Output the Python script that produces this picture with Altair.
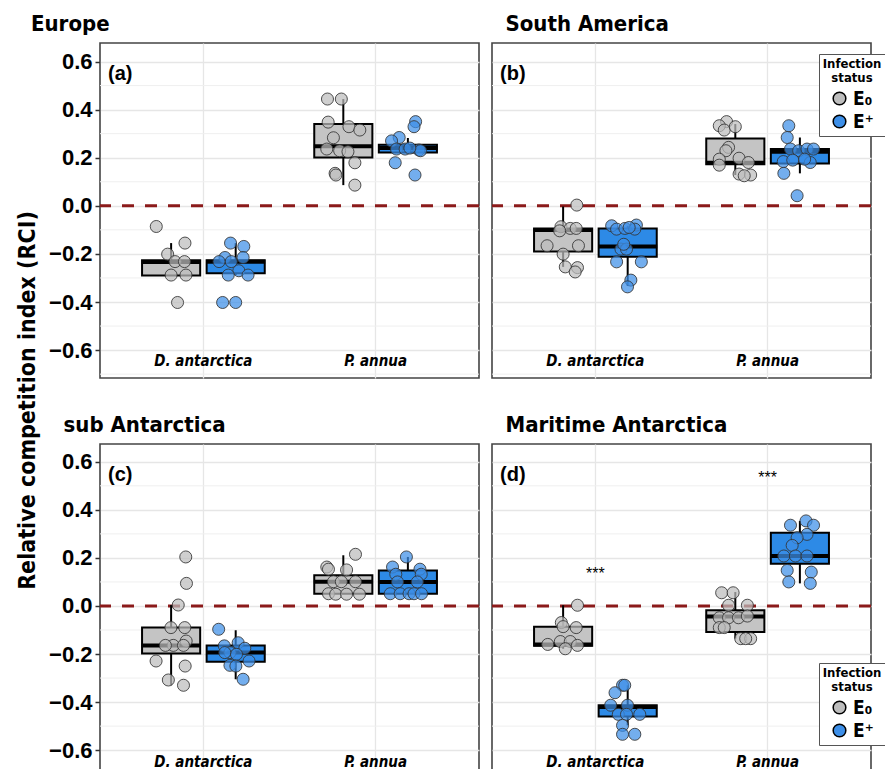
import altair as alt
import pandas as pd

COND = "Liberation Sans Narrow, DejaVu Sans Condensed, Roboto Condensed, sans-serif"
ARIAL = "Liberation Sans, Arial, sans-serif"

regions = ["Europe", "South America", "sub Antarctica", "Maritime Antarctica"]
tags = ["(a)", "(b)", "(c)", "(d)"]
species = ["D. antarctica", "P. annua"]
statuses = ["E\u2080", "E\u207a"]
groups = [(species[0], statuses[0]), (species[0], statuses[1]),
          (species[1], statuses[0]), (species[1], statuses[1])]

# box statistics per region, groups ordered DA-E0, DA-E+, PA-E0, PA-E+
box_lo = {
    "Europe": [-0.290, -0.288, 0.086, 0.222],
    "South America": [-0.254, -0.333, 0.128, 0.135],
    "sub Antarctica": [-0.330, -0.305, 0.049, 0.051],
    "Maritime Antarctica": [-0.178, -0.497, -0.136, 0.094],
}
box_q1 = {
    "Europe": [-0.290, -0.280, 0.201, 0.222],
    "South America": [-0.190, -0.212, 0.173, 0.176],
    "sub Antarctica": [-0.198, -0.232, 0.051, 0.051],
    "Maritime Antarctica": [-0.166, -0.460, -0.108, 0.176],
}
box_med = {
    "Europe": [-0.234, -0.233, 0.248, 0.240],
    "South America": [-0.101, -0.169, 0.179, 0.225],
    "sub Antarctica": [-0.164, -0.194, 0.101, 0.100],
    "Maritime Antarctica": [-0.160, -0.420, -0.044, 0.208],
}
box_q3 = {
    "Europe": [-0.226, -0.226, 0.340, 0.254],
    "South America": [-0.094, -0.094, 0.280, 0.236],
    "sub Antarctica": [-0.090, -0.164, 0.128, 0.148],
    "Maritime Antarctica": [-0.086, -0.413, -0.018, 0.305],
}
box_hi = {
    "Europe": [-0.155, -0.155, 0.444, 0.282],
    "South America": [-0.003, -0.083, 0.340, 0.284],
    "sub Antarctica": [0.004, -0.101, 0.211, 0.204],
    "Maritime Antarctica": [0.003, -0.330, 0.058, 0.354],
}

pts_val = {
    "Europe": [
        [-0.086, -0.155, -0.201, -0.232, -0.232, -0.288, -0.288, -0.402],
        [-0.155, -0.169, -0.215, -0.232, -0.215, -0.270, -0.288, -0.288, -0.232, -0.402, -0.402],
        [0.444, 0.444, 0.348, 0.329, 0.315, 0.283, 0.236, 0.229, 0.225, 0.179, 0.135, 0.128, 0.086],
        [0.350, 0.329, 0.284, 0.270, 0.236, 0.236, 0.232, 0.229, 0.179, 0.128, 0.240],
    ],
    "South America": [
        [0.003, -0.087, -0.094, -0.094, -0.104, -0.166, -0.166, -0.201, -0.254, -0.257, -0.275],
        [-0.083, -0.097, -0.094, -0.080, -0.097, -0.090, -0.180, -0.180, -0.160, -0.233, -0.233, -0.309, -0.337],
        [0.350, 0.333, 0.315, 0.329, 0.243, 0.229, 0.194, 0.198, 0.169, 0.180, 0.132, 0.128, 0.125],
        [0.333, 0.284, 0.236, 0.229, 0.236, 0.236, 0.184, 0.190, 0.180, 0.194, 0.135, 0.042],
    ],
    "sub Antarctica": [
        [0.204, 0.094, 0.004, -0.090, -0.090, -0.146, -0.164, -0.164, -0.164, -0.229, -0.250, -0.308, -0.330],
        [-0.097, -0.166, -0.153, -0.176, -0.194, -0.201, -0.229, -0.247, -0.250, -0.305, -0.194],
        [0.215, 0.162, 0.153, 0.150, 0.101, 0.101, 0.101, 0.051, 0.049, 0.049, 0.049],
        [0.204, 0.162, 0.132, 0.153, 0.132, 0.100, 0.100, 0.051, 0.051, 0.051, 0.051, 0.051],
    ],
    "Maritime Antarctica": [
        [0.003, -0.069, -0.090, -0.160, -0.148, -0.148, -0.164, -0.178, -0.086],
        [-0.330, -0.361, -0.413, -0.413, -0.451, -0.451, -0.451, -0.497, -0.534, -0.534, -0.330],
        [0.055, 0.055, 0.003, 0.003, -0.049, -0.049, -0.049, -0.042, -0.090, -0.090, -0.136, -0.136, -0.136],
        [0.336, 0.354, 0.336, 0.298, 0.284, 0.252, 0.208, 0.208, 0.208, 0.148, 0.141, 0.100, 0.094],
    ],
}
pts_jit = {
    "Europe": [
        [-15, 14, -3.5, 4, 13.5, 0, 15, 6.5],
        [-5.2, 8.2, -10.8, -4.5, 7.5, 3.2, -7.5, 12.5, -16.8, -13.2, 0],
        [-16, -2, -15.3, 5.7, 16.7, -10, -16.7, -3.7, 4.7, 11.7, -8.3, -7.5, 11.7],
        [7.8, 6.2, -8.8, -16.5, -11.5, -2.8, 11.2, 12.8, -12.8, 7.2, 2],
    ],
    "South America": [
        [13.8, -2.2, 7.2, 13.2, -3.5, -16.2, 15.5, 0, 2.2, 14.5, 12.2],
        [-16.2, -11.2, -2.8, 8.8, 7.2, 1.5, -6.8, -1.2, -4, -11.2, 13.8, 3.2, -0.2],
        [-8.8, -16.2, -11.2, 0, -6.8, -9.5, -16.2, 3.8, -16.2, 13.2, 3.8, 15.5, 9],
        [-11.2, -12.8, -9.5, -1.2, 7.2, 13.8, -16.8, -7.2, 10.5, 4.8, -16.2, -2.8],
    ],
    "sub Antarctica": [
        [14.8, 15.5, 7.2, -0.2, 13.8, 15.2, 2.2, -5.8, 12.5, -15.2, 14.2, -2.8, 12.5],
        [-17.2, -11.5, 2.5, 9.2, -5.8, 0.8, 13.5, -5.8, 0.2, 7.5, -11],
        [12.3, -16.7, -15, 3.3, -10, -2, 12.3, -15, -7.7, 3.3, 16.3],
        [-1.5, -15.5, -12.2, 12.2, 13.5, -10.5, 9.5, -17.8, -7.8, 1.2, 6.2, 13.8],
    ],
    "Maritime Antarctica": [
        [14.5, -1.8, 13.2, -15.5, -2.8, 7.2, 14.5, 2.2, 0],
        [-5.2, -12.8, -17.2, -0.2, -9.5, -1.2, 12.2, -5.2, 7.2, -5.2, -3],
        [-13.8, -2.2, -6.8, 12.2, -16.2, -6.8, 3.2, 12.2, -16.2, -11.2, 5.5, 15.5, 10.5],
        [-9.5, 6.2, 13.8, 7.2, -2.8, -7.8, -16.2, -4.5, 7.2, -12.8, 11.5, -11.2, 10.5],
    ],
}

major_ticks = [-0.6, -0.4, -0.2, 0.0, 0.2, 0.4, 0.6]
minor_ticks = [-0.7, -0.5, -0.3, -0.1, 0.1, 0.3, 0.5]
zero_line = [0.0]
sig_species = ["D. antarctica", "P. annua"]
sig_y = [0.132, 0.534]
sig_text = ["***", "***"]

box_cols = ["#c4c4c4", "#2d8ae6"]
pt_cols = ["#bdbdbd", "#3d8fe8"]

# ---- tables
box_rows, pt_rows = [], []
for reg in regions:
    for gi, (sp, st) in enumerate(groups):
        box_rows.append(dict(region=reg, species=sp, status=st, lo=box_lo[reg][gi],
                             q1=box_q1[reg][gi], med=box_med[reg][gi], q3=box_q3[reg][gi],
                             hi=box_hi[reg][gi]))
        si = statuses.index(st)
        for v, j in zip(pts_val[reg][gi], pts_jit[reg][gi]):
            pt_rows.append(dict(region=reg, species=sp, status=st, rci=v,
                                xo=si + 0.5 + j / 65.25))
df_box = pd.DataFrame(box_rows)
df_pts = pd.DataFrame(pt_rows)


def panel(i):
    reg = regions[i]
    top = i < 2
    left = i % 2 == 0
    dom = [-0.716, 0.677] if top else [-0.720, 0.674]
    h = 335
    yscale = alt.Scale(domain=dom, nice=False, zero=False)
    xscale = alt.Scale(domain=species, paddingInner=0.25, paddingOuter=0.2255)

    xaxis = alt.Axis(title=None, labelFont=COND, labelFontSize=15, labelFontStyle="italic",
                     labelFontWeight="bold", labelColor="black", labelPadding=-25,
                     ticks=False, tickSize=0, domain=False, grid=True, gridColor="#e6e6e6",
                     gridWidth=1.3, labelAngle=0)
    yargs = dict(values=major_ticks, format=".1f", grid=True, gridColor="#e6e6e6",
                 gridWidth=1.3, domain=False)
    if left:
        yargs.update(labelFont=ARIAL, labelFontSize=22, labelFontWeight="bold",
                     labelColor="black", ticks=True, tickSize=5, tickColor="#333",
                     tickWidth=1.5, labelPadding=3)
    else:
        yargs.update(labels=False, ticks=False)
    if i == 0:
        yargs.update(title="Relative competition index (RCI)", titleX=-66, titleY=357,
                     titleAngle=270, titleAlign="center", titleBaseline="alphabetic",
                     titleFont=COND, titleFontSize=23, titleFontWeight="bold",
                     titleColor="black")
    else:
        yargs.update(title=None)
    yaxis = alt.Axis(**yargs)

    bx = df_box[df_box.region == reg]
    pt = df_pts[df_pts.region == reg]

    xenc = alt.X("species:N", scale=xscale, axis=xaxis, sort=species)
    xoff = alt.XOffset("status:N", sort=statuses,
                       scale=alt.Scale(domain=statuses, paddingInner=0.1, paddingOuter=0.05))

    minor = alt.Chart(pd.DataFrame({"v": minor_ticks})).mark_rule(
        color="#efefef", strokeWidth=1, clip=True
    ).encode(y=alt.Y("v:Q", scale=yscale, axis=yaxis))

    zero = alt.Chart(pd.DataFrame({"v": zero_line})).mark_rule(
        color="#8b1a1a", strokeWidth=3, strokeDash=[12, 11]
    ).encode(y=alt.Y("v:Q", scale=yscale, axis=yaxis))

    whisk = alt.Chart(bx).mark_rule(color="black", strokeWidth=2).encode(
        x=xenc, xOffset=xoff, y=alt.Y("lo:Q", scale=yscale, axis=yaxis), y2="hi:Q")

    boxes = alt.Chart(bx).mark_bar(stroke="black", strokeWidth=2, opacity=1).encode(
        x=xenc, xOffset=xoff, y=alt.Y("q1:Q", scale=yscale, axis=yaxis), y2="q3:Q",
        color=alt.Color("status:N", scale=alt.Scale(domain=statuses, range=box_cols),
                        legend=None))

    med = alt.Chart(bx).mark_tick(color="black", thickness=4, size=59, opacity=1).encode(
        x=xenc, xOffset=xoff, y=alt.Y("med:Q", scale=yscale, axis=yaxis))

    if left:
        leg = None
    else:
        leg = alt.Legend(title=["Infection", "status"], orient="none", legendX=327,
                         legendY=11 if top else 219,
                         titleFont=COND, titleFontSize=13, titleFontWeight="bold",
                         titleColor="black", titleAnchor="middle", titleAlign="center",
                         titleLineHeight=14, titlePadding=4,
                         labelFont=COND, labelFontSize=19, labelFontWeight="bold",
                         labelColor="black", symbolType="circle", symbolSize=160,
                         symbolStrokeColor="black", symbolStrokeWidth=1.5,
                         symbolOpacity=1, strokeColor="#555", fillColor="white",
                         padding=4, rowPadding=3, labelOffset=4)

    pts = alt.Chart(pt).mark_circle(size=145, fillOpacity=0.72, stroke="#333",
                                    strokeWidth=1, strokeOpacity=0.85).encode(
        x=xenc,
        xOffset=alt.XOffset("xo:Q", scale=alt.Scale(domain=[0, 2])),
        y=alt.Y("rci:Q", scale=yscale, axis=yaxis),
        fill=alt.Fill("status:N", scale=alt.Scale(domain=statuses, range=pt_cols),
                      legend=leg),
    )

    tag = alt.Chart(pd.DataFrame({"t": [tags[i]]})).mark_text(
        align="left", baseline="middle", font=ARIAL, fontSize=20, fontWeight="bold",
        color="black"
    ).encode(x=alt.value(8), y=alt.value(31), text="t:N")

    layers = [minor, zero, whisk, boxes, med, pts, tag]
    if i == 3:
        sig = alt.Chart(pd.DataFrame({"species": sig_species, "y": sig_y, "s": sig_text})).mark_text(
            font=ARIAL, fontSize=16, color="black", baseline="middle"
        ).encode(x=alt.X("species:N", scale=xscale, axis=xaxis, sort=species),
                 y=alt.Y("y:Q", scale=yscale, axis=yaxis), text="s:N")
        layers.append(sig)

    ch = alt.layer(*layers).resolve_scale(xOffset="independent", color="independent",
                                          fill="independent")
    return ch.properties(
        width=379, height=h,
        title=alt.TitleParams(reg, anchor="start", dx=15, fontSize=22, font=COND,
                              fontWeight="bold", color="black", offset=7),
    )


p = [panel(i) for i in range(4)]
res = dict(x="independent", y="independent", xOffset="independent",
           color="independent", fill="independent")
chart = alt.concat(*p, columns=2, spacing={"row": 66, "column": 13}, bounds="flush").resolve_scale(
    **res
).resolve_legend(fill="independent").properties(
    autosize=alt.AutoSizeParams(type="none"),
    padding={"left": 92, "top": 35, "right": 785, "bottom": 726},
    background="white",
).configure_view(stroke="#444444", strokeWidth=1.6)

chart.save("out.html", embed_options={"renderer": "svg", "actions": False})
